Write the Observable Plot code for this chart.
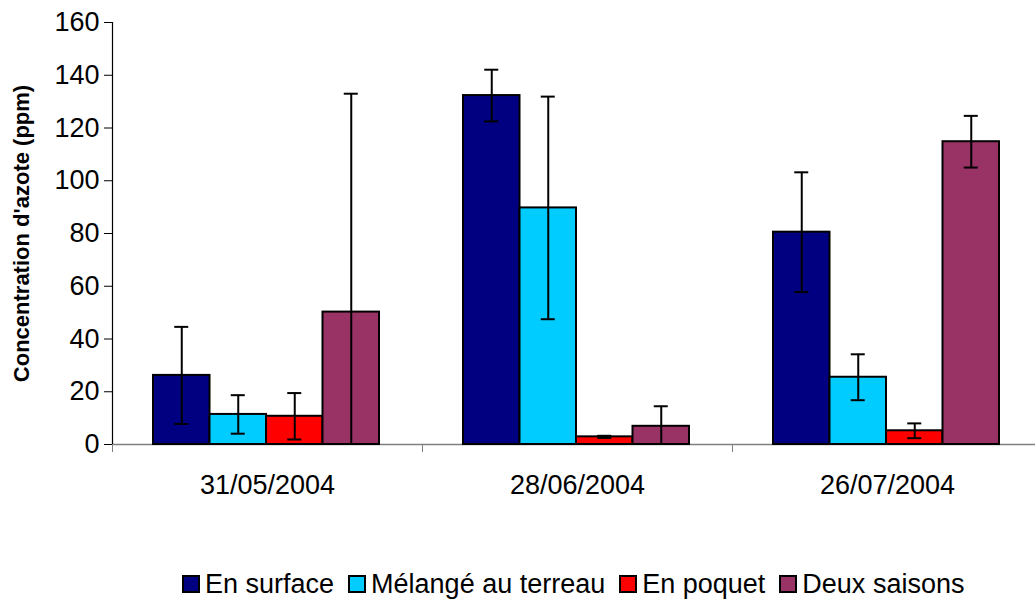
<!DOCTYPE html>
<html>
<head>
<meta charset="utf-8">
<script src="https://cdn.jsdelivr.net/npm/d3@7"></script>
<script src="https://cdn.jsdelivr.net/npm/@observablehq/plot@0.6"></script>
<style>
  html, body { margin: 0; padding: 0; background: #fff; overflow: hidden; }
  #wrap { position: relative; width: 1035px; height: 601px; overflow: hidden; font-family: "Liberation Sans", Arial, sans-serif; }
  #wrap svg { max-width: none !important; }
  #legend { position: absolute; top: 570px; left: 182px; display: flex; align-items: center; font-size: 27px; line-height: 28px; color: #000; white-space: nowrap; }
  .item { display: flex; align-items: center; margin-right: 14px; }
  .sw { width: 14px; height: 14px; border: 2px solid #000; margin-right: 5px; box-sizing: content-box; }
</style>
</head>
<body>
<div id="wrap"></div>
<script>
const dates = ["31/05/2004", "28/06/2004", "26/07/2004"];
const series = ["En surface", "Mélangé au terreau", "En poquet", "Deux saisons"];
const colors = ["#000080", "#00CCFF", "#FF0000", "#993366"];
// mean values per series, one entry per date
const enSurface = [26.2, 132.3, 80.5];
const melange = [11.4, 89.7, 25.5];
const enPoquet = [10.7, 2.9, 5.2];
const deuxSaisons = [50.2, 6.9, 114.8];
// error (half-width) per series, one entry per date
const errSurface = [18.4, 9.8, 22.7];
const errMelange = [7.3, 42.2, 8.7];
const errPoquet = [8.8, 0.4, 2.8];
const errDeux = [82.8, 7.6, 9.8];
const yTicks = [0, 20, 40, 60, 80, 100, 120, 140, 160];

const values = [enSurface, melange, enPoquet, deuxSaisons];
const errors = [errSurface, errMelange, errPoquet, errDeux];

const pad = 41 / 310, bw = 56.5 / 310, cap = 7 / 310;
const rows = [];
dates.forEach((d, i) => {
  series.forEach((s, j) => {
    const v = values[j][i], e = errors[j][i];
    const x1 = i + pad + j * bw;
    rows.push({date: d, series: s, value: v, x1, x2: x1 + bw, xc: x1 + bw / 2,
      lo: Math.max(0, v - e), hi: v + e, loCap: v - e >= 0});
  });
});
const caps = [];
rows.forEach(r => {
  caps.push({y: r.hi, xc: r.xc});
  if (r.loCap) caps.push({y: r.lo, xc: r.xc});
});

const chart = Plot.plot({
  width: 1042,
  height: 520,
  marginLeft: 112,
  marginRight: 0,
  marginTop: 22,
  marginBottom: 76,
  style: {fontFamily: "'Liberation Sans', Arial, sans-serif", background: "#fff", color: "#000", overflow: "visible"},
  x: {type: "linear", domain: [0, 3]},
  y: {domain: [0, 160]},
  color: {domain: series, range: colors},
  marks: [
    Plot.axisY({ticks: yTicks, tickSize: 8, tickPadding: 5, fontSize: 27, label: null, stroke: "#000"}),
    Plot.axisX({ticks: [0, 1, 2, 3], tickSize: 8, tickFormat: () => "", label: null, stroke: "#808080"}),
    Plot.axisX({ticks: [0.5, 1.5, 2.5], tickSize: 0, tickPadding: 30, fontSize: 27, label: null,
      tickFormat: t => dates[Math.floor(t)]}),
    Plot.ruleY([0], {stroke: "#808080", strokeWidth: 1.5}),
    Plot.ruleX([0], {stroke: "#000", strokeWidth: 1.2}),
    Plot.rectY(rows, {x1: "x1", x2: "x2", y1: 0, y2: "value", fill: "series", stroke: "#000", strokeWidth: 2}),
    Plot.ruleX(rows, {x: "xc", y1: "lo", y2: "hi", stroke: "#000", strokeWidth: 2}),
    Plot.ruleY(caps, {y: "y", x1: d => d.xc - cap, x2: d => d.xc + cap, stroke: "#000", strokeWidth: 2}),
    Plot.text(["Concentration d'azote (ppm)"], {frameAnchor: "left", dx: -91, rotate: -90, textAnchor: "middle", fontSize: 22, fontWeight: "bold", text: d => d})
  ]
});
document.getElementById("wrap").appendChild(chart);

const legend = document.createElement("div");
legend.id = "legend";
series.forEach((s, j) => {
  const it = document.createElement("div");
  it.className = "item";
  const sw = document.createElement("span");
  sw.className = "sw";
  sw.style.background = colors[j];
  const tx = document.createElement("span");
  tx.textContent = s;
  it.appendChild(sw);
  it.appendChild(tx);
  legend.appendChild(it);
});
document.getElementById("wrap").appendChild(legend);
</script>
</body>
</html>
